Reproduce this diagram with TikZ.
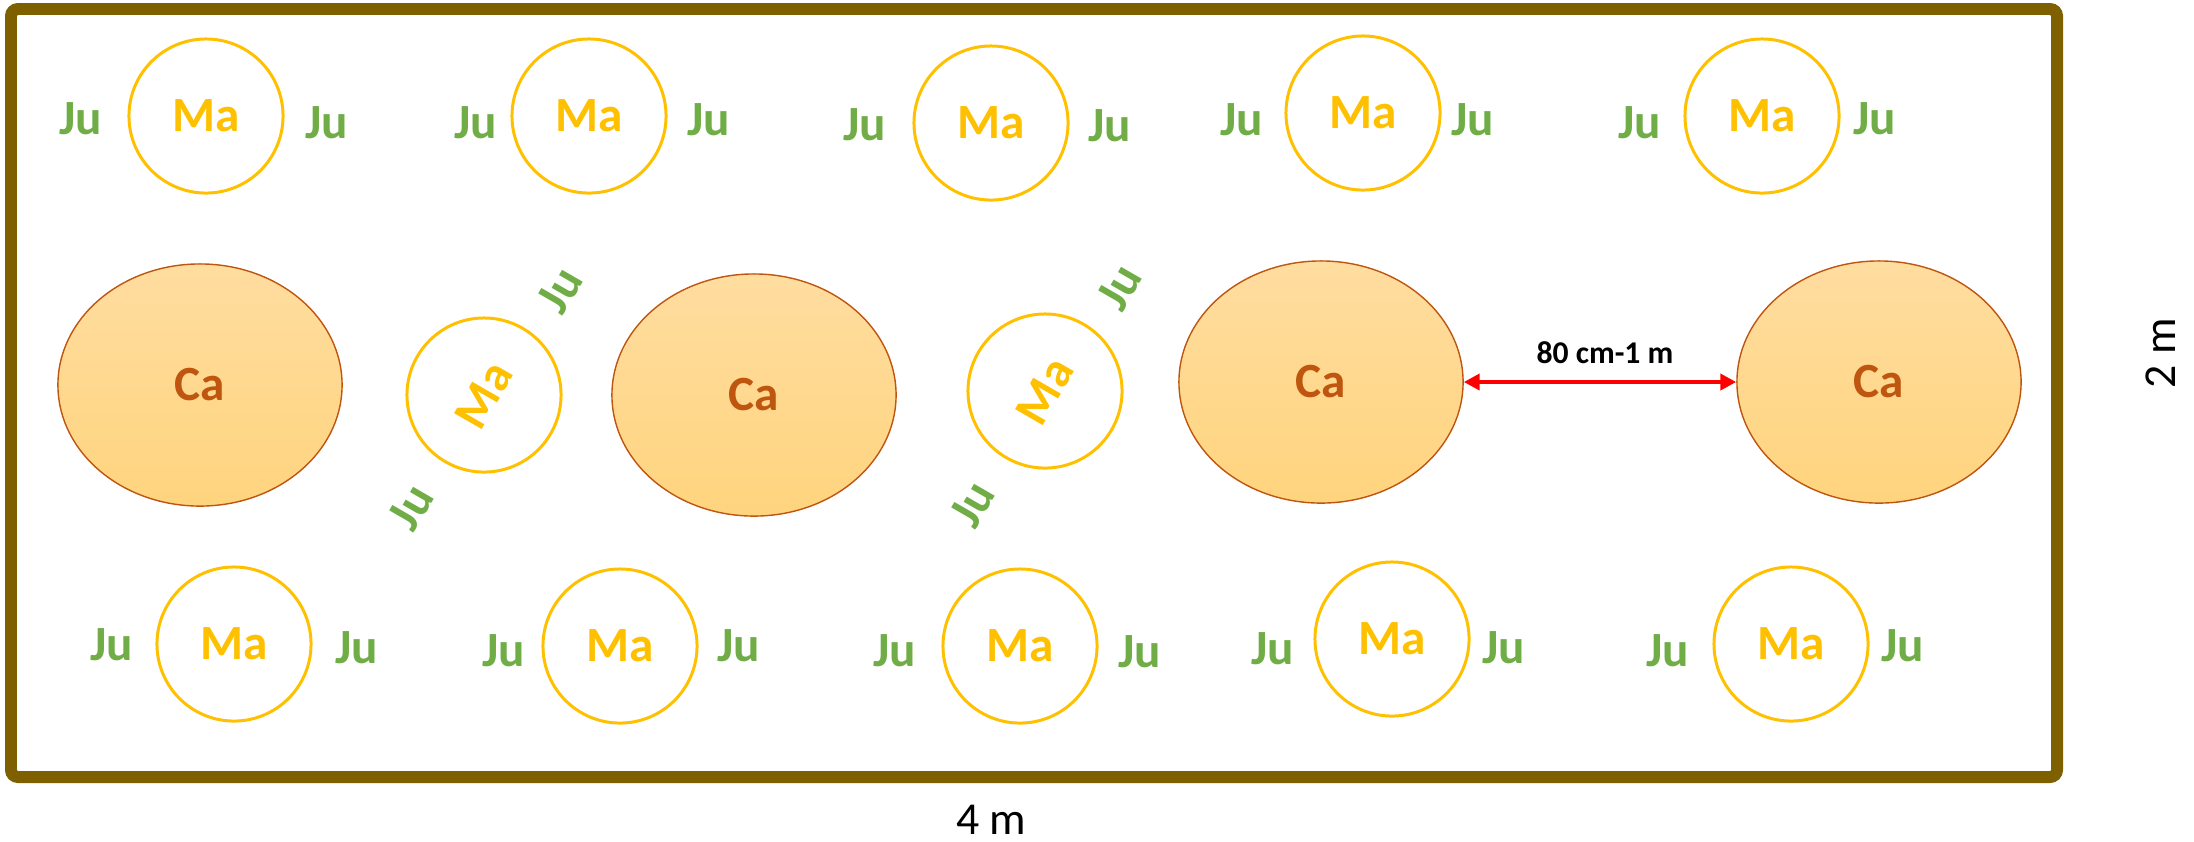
\documentclass[tikz,border=0pt]{standalone}
\usepackage{fontspec}
\setmainfont{Carlito}
\usetikzlibrary{shapes.geometric, arrows.meta}

\definecolor{gold}{HTML}{FFC000}
\definecolor{leaf}{HTML}{70AD47}
\definecolor{rust}{HTML}{BF560F}
\definecolor{peachtop}{HTML}{FFDDA0}
\definecolor{peachbot}{HTML}{FFD47E}
\definecolor{olive}{HTML}{7F6000}

\begin{document}
\begin{tikzpicture}[x=0.01cm, y=-0.01cm, >={Triangle[length=4.5pt,width=4.5pt]},
    every node/.style={font=\fontsize{14pt}{16pt}\selectfont\bfseries, inner sep=0pt},
    mango/.style={draw=gold, line width=0.85pt, circle, minimum size=1.54cm, text=gold},
    cabbage/.style={draw=rust, line width=0.4pt, ellipse, minimum width=2.84cm, minimum height=2.42cm,
        top color=peachtop, bottom color=peachbot, text=rust},
    jute/.style={text=leaf},
    dim/.style={font=\fontsize{13pt}{15pt}\selectfont}]
    \useasboundingbox (0,0) rectangle (2194,841);
    \draw[olive, line width=3.4pt, rounded corners=2pt] (11,9) rectangle (2057,777);

    % top row
    \node[mango] (ma1) at (206,116) {Ma};
    \node[mango] (ma2) at (589,116) {Ma};
    \node[mango] (ma3) at (991,123) {Ma};
    \node[mango] (ma4) at (1363,113) {Ma};
    \node[mango] (ma5) at (1762,116) {Ma};
    \node[jute] (ju1) at (81,119) {Ju};
    \node[jute] (ju2) at (327,123) {Ju};
    \node[jute] (ju3) at (476,123) {Ju};
    \node[jute] (ju4) at (709,120) {Ju};
    \node[jute] (ju5) at (865,125) {Ju};
    \node[jute] (ju6) at (1110,126) {Ju};
    \node[jute] (ju7) at (1242,120) {Ju};
    \node[jute] (ju8) at (1473,120) {Ju};
    \node[jute] (ju9) at (1640,123) {Ju};
    \node[jute] (ju10) at (1875,119) {Ju};

    % middle row
    \node[cabbage] (ca1) at (200,385) {Ca};
    \node[cabbage] (ca2) at (754,395) {Ca};
    \node[cabbage] (ca3) at (1321,382) {Ca};
    \node[cabbage] (ca4) at (1879,382) {Ca};
    \node[mango] (ma6) at (484,395) {\rotatebox{60}{Ma}};
    \node[mango] (ma7) at (1045,391) {\rotatebox{60}{Ma}};
    \node[jute, rotate=60] (ju11) at (560,290) {Ju};
    \node[jute, rotate=60] (ju12) at (411,507) {Ju};
    \node[jute, rotate=60] (ju13) at (1119,287) {Ju};
    \node[jute, rotate=60] (ju14) at (972,504) {Ju};

    \draw[red, line width=1.2pt, <->] (ca3.east) -- (ca4.west);
    \node[font=\fontsize{9pt}{11pt}\selectfont\bfseries] (gap) at (1605,353) {80 cm-1 m};

    % bottom row
    \node[mango] (ma8) at (234,644) {Ma};
    \node[mango] (ma9) at (620,646) {Ma};
    \node[mango] (ma10) at (1020,646) {Ma};
    \node[mango] (ma11) at (1392,639) {Ma};
    \node[mango] (ma12) at (1791,644) {Ma};
    \node[jute] (ju15) at (112,645) {Ju};
    \node[jute] (ju16) at (357,648) {Ju};
    \node[jute] (ju17) at (504,651) {Ju};
    \node[jute] (ju18) at (739,646) {Ju};
    \node[jute] (ju19) at (895,651) {Ju};
    \node[jute] (ju20) at (1140,652) {Ju};
    \node[jute] (ju21) at (1273,649) {Ju};
    \node[jute] (ju22) at (1504,648) {Ju};
    \node[jute] (ju23) at (1668,651) {Ju};
    \node[jute] (ju24) at (1903,646) {Ju};

    % sizes
    \node[dim] (width) at (991,820) {4 m};
    \node[dim, rotate=90] (height) at (2161,353) {2 m};
\end{tikzpicture}
\end{document}
